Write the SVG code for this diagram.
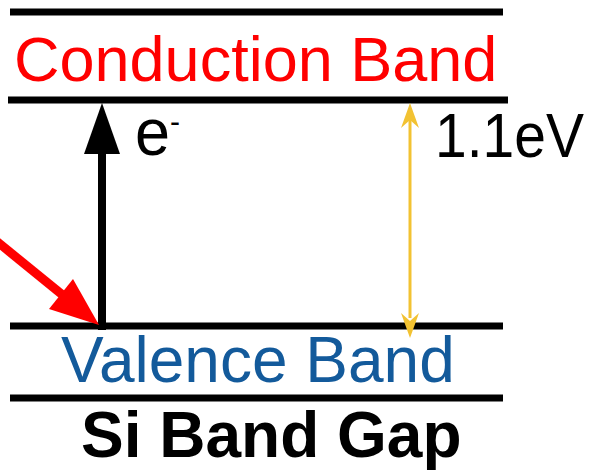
<svg xmlns="http://www.w3.org/2000/svg" width="600" height="472" viewBox="0 0 600 472">
<style>
.band{stroke:#000;stroke-width:7;fill:none}
.t{font-family:"Liberation Sans",Arial,sans-serif;font-size:63px}
</style>
<rect width="600" height="472" fill="#fff"/>
<g id="conduction-band">
<line class="band" x1="10" y1="12" x2="503" y2="12"/>
<text class="t" x="14" y="81" fill="#ff0000">Conduction Band</text>
<line class="band" x1="8" y1="100" x2="508" y2="100"/>
</g>
<g id="valence-band">
<line class="band" x1="10" y1="326" x2="503" y2="326"/>
<text class="t" x="61" y="382" fill="#135a9b" style="font-size:64px">Valence Band</text>
<line class="band" x1="10" y1="398" x2="503" y2="398"/>
</g>
<g id="title">
<text class="t" x="81" y="457" font-weight="bold" style="font-size:64px">Si Band Gap</text>
</g>
<g id="labels">
<text class="t" transform="translate(135,155) scale(1,1.06)" x="0" y="0">e<tspan style="font-size:30px" dy="-22">-</tspan></text>
<text class="t" transform="translate(435,157) scale(1,1.12)" x="0" y="0" style="font-size:57px">1.1eV</text>
</g>
<g id="connectors">
<line x1="102" y1="330" x2="102" y2="148" stroke="#000" stroke-width="8"/>
<polygon points="102,103 84,154 120,154" fill="#000"/>
<line x1="410" y1="118" x2="410" y2="318" stroke="#f2c232" stroke-width="3"/>
<path d="M410 103 L419 128 L410 120 L401 128 Z" fill="#f2c232"/>
<path d="M410 338 L419 313 L410 321 L401 313 Z" fill="#f2c232"/>
<line x1="-5" y1="240" x2="70" y2="301" stroke="#ff0000" stroke-width="9"/>
<polygon points="99,325 49,309 73,279" fill="#ff0000"/>
</g>
</svg>
